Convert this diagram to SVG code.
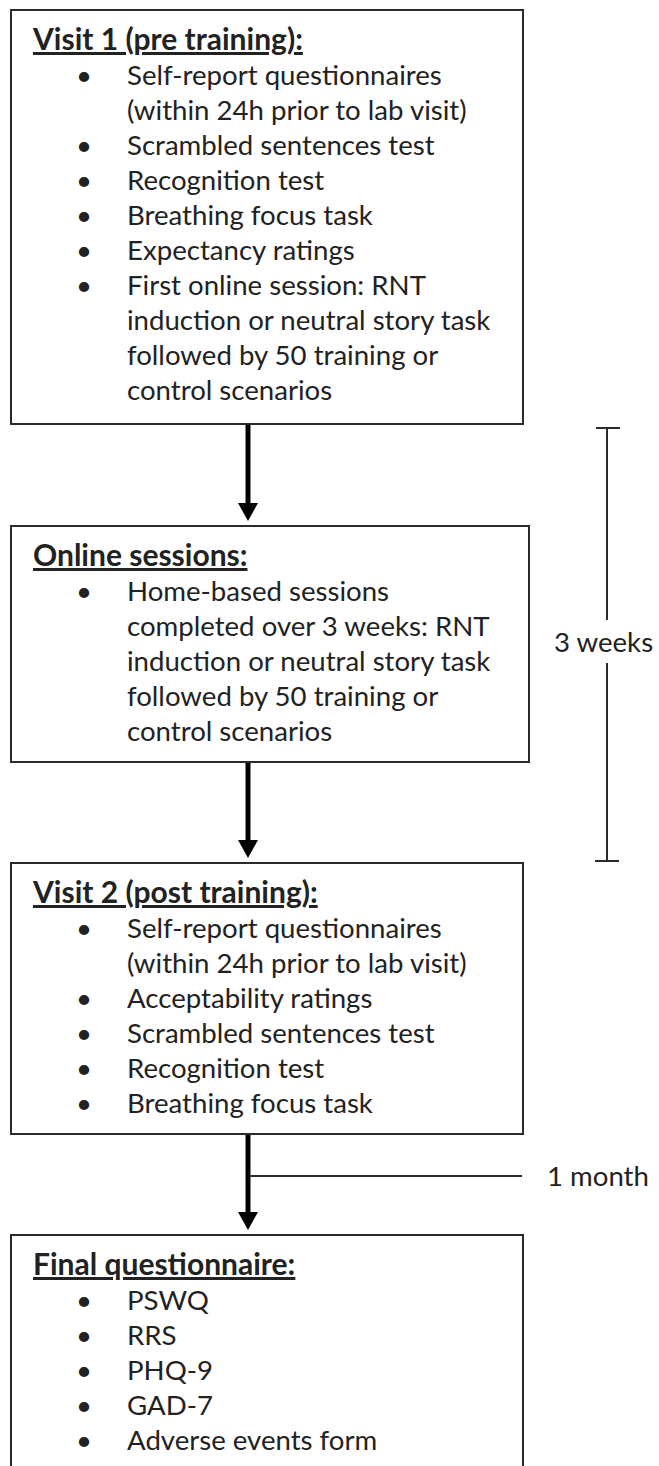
<svg xmlns="http://www.w3.org/2000/svg" width="659" height="1466" viewBox="0 0 659 1466">
<style>
.box{fill:#fff;stroke:#2a2a2a;stroke-width:2}
text{font-family:Lato,"Liberation Sans",sans-serif;font-size:27.6px;fill:#222}
.t{font-weight:bold;font-size:30px;text-decoration:underline}
.b{text-anchor:middle}
.ln{stroke:#2a2a2a;stroke-width:2;fill:none}
.sh{stroke:#000;stroke-width:5;fill:none}
.hd{fill:#000}
</style>
<rect width="659" height="1466" fill="#fff"/>
<g id="connectors">
<line class="sh" x1="248" y1="424" x2="248" y2="506"/>
<polygon class="hd" points="238,503 258,503 248,521"/>
<line class="sh" x1="248" y1="763" x2="248" y2="843"/>
<polygon class="hd" points="238,840 258,840 248,858"/>
<line class="sh" x1="248" y1="1134" x2="248" y2="1215"/>
<polygon class="hd" points="238,1212 258,1212 248,1230"/>
</g>
<g id="bracket-3weeks">
<line class="ln" x1="596" y1="428" x2="620" y2="428"/>
<line class="ln" x1="607" y1="428" x2="607" y2="620"/>
<line class="ln" x1="607" y1="663" x2="607" y2="861"/>
<line class="ln" x1="595" y1="861" x2="619" y2="861"/>
<text x="554" y="652">3 weeks</text>
</g>
<g id="month-1">
<line class="ln" x1="250" y1="1176" x2="522" y2="1176"/>
<text x="547" y="1186">1 month</text>
</g>
<g id="visit1">
<rect class="box" x="11" y="10" width="512" height="414"/>
<text class="t" x="33" y="50">Visit 1 (pre training):</text>
<text class="b" x="84" y="85">•</text><text x="127" y="85">Self-report questionnaires</text>
<text x="127" y="120">(within 24h prior to lab visit)</text>
<text class="b" x="84" y="155">•</text><text x="127" y="155">Scrambled sentences test</text>
<text class="b" x="84" y="190">•</text><text x="127" y="190">Recognition test</text>
<text class="b" x="84" y="225">•</text><text x="127" y="225">Breathing focus task</text>
<text class="b" x="84" y="260">•</text><text x="127" y="260">Expectancy ratings</text>
<text class="b" x="84" y="295">•</text><text x="127" y="295">First online session: RNT</text>
<text x="127" y="330">induction or neutral story task</text>
<text x="127" y="365">followed by 50 training or</text>
<text x="127" y="400">control scenarios</text>
</g>
<g id="online">
<rect class="box" x="11" y="526" width="518" height="236"/>
<text class="t" x="33" y="566">Online sessions:</text>
<text class="b" x="84" y="601">•</text><text x="127" y="601">Home-based sessions</text>
<text x="127" y="636">completed over 3 weeks: RNT</text>
<text x="127" y="671">induction or neutral story task</text>
<text x="127" y="706">followed by 50 training or</text>
<text x="127" y="741">control scenarios</text>
</g>
<g id="visit2">
<rect class="box" x="11" y="863" width="512" height="271"/>
<text class="t" x="33" y="903">Visit 2 (post training):</text>
<text class="b" x="84" y="938">•</text><text x="127" y="938">Self-report questionnaires</text>
<text x="127" y="973">(within 24h prior to lab visit)</text>
<text class="b" x="84" y="1008">•</text><text x="127" y="1008">Acceptability ratings</text>
<text class="b" x="84" y="1043">•</text><text x="127" y="1043">Scrambled sentences test</text>
<text class="b" x="84" y="1078">•</text><text x="127" y="1078">Recognition test</text>
<text class="b" x="84" y="1113">•</text><text x="127" y="1113">Breathing focus task</text>
</g>
<g id="final">
<rect class="box" x="11" y="1235" width="512" height="240"/>
<text class="t" x="33" y="1275">Final questionnaire:</text>
<text class="b" x="84" y="1310">•</text><text x="127" y="1310">PSWQ</text>
<text class="b" x="84" y="1345">•</text><text x="127" y="1345">RRS</text>
<text class="b" x="84" y="1380">•</text><text x="127" y="1380">PHQ-9</text>
<text class="b" x="84" y="1415">•</text><text x="127" y="1415">GAD-7</text>
<text class="b" x="84" y="1450">•</text><text x="127" y="1450">Adverse events form</text>
</g>
</svg>
